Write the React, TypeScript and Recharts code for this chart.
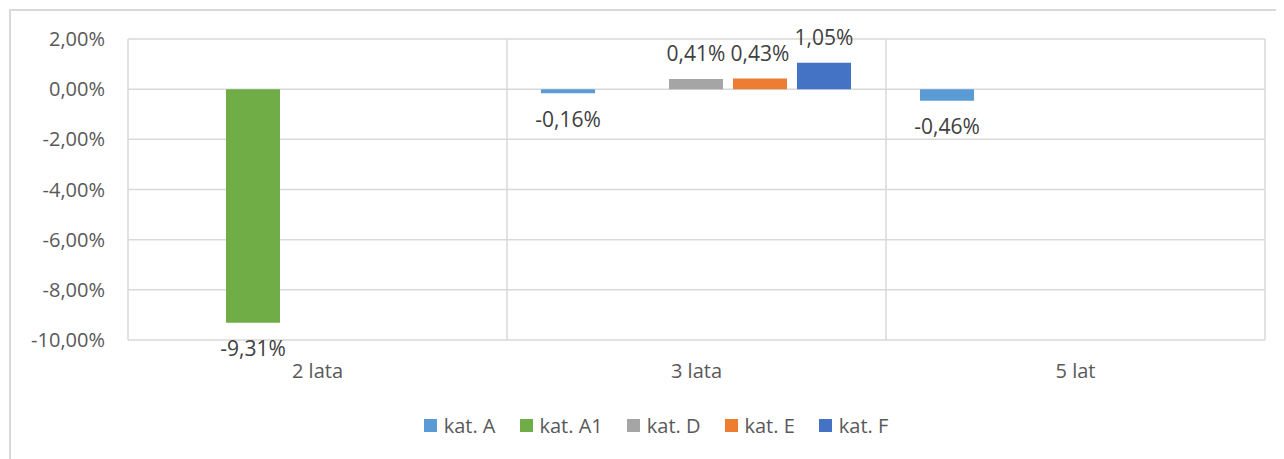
import React from 'react';
import { BarChart, Bar, XAxis, YAxis, CartesianGrid, Legend, LabelList } from 'recharts';

const categories = ['2 lata', '3 lata', '5 lat'];
const katA = [null, -0.16, -0.46];
const katA1 = [-9.31, null, null];
const katD = [null, 0.41, null];
const katE = [null, 0.43, null];
const katF = [null, 1.05, null];
const yTicks = [-10, -8, -6, -4, -2, 0, 2];

const SERIES = [
  { key: 'katA', name: 'kat. A', color: '#5B9BD5' },
  { key: 'katA1', name: 'kat. A1', color: '#70AD47' },
  { key: 'katD', name: 'kat. D', color: '#A5A5A5' },
  { key: 'katE', name: 'kat. E', color: '#ED7D31' },
  { key: 'katF', name: 'kat. F', color: '#4472C4' },
];

const data = categories.map((name, i) => ({
  name,
  katA: katA[i],
  katA1: katA1[i],
  katD: katD[i],
  katE: katE[i],
  katF: katF[i],
}));

const FONT = '"Open Sans", sans-serif';
const pct = (v: number) => v.toFixed(2).replace('.', ',') + '%';

// Excel style "outside end" label
const ValueLabel = (props: any) => {
  const { x, y, width, height, value } = props;
  if (value === null || value === undefined) return null;
  const top = Math.min(y, y + height);
  const bottom = Math.max(y, y + height);
  const cy = value >= 0 ? top - 25 : bottom + 26;
  return (
    <text
      x={x + width / 2}
      y={cy}
      dy="0.36em"
      textAnchor="middle"
      fill="#404040"
      fontSize={21}
      fontFamily={FONT}
    >
      {pct(value)}
    </text>
  );
};

const renderLegend = (props: any) => {
  const { payload } = props;
  return (
    <div style={{ display: 'flex', justifyContent: 'center', alignItems: 'center', height: 28 }}>
      {payload.map((p: any, i: number) => (
        <div key={i} style={{ display: 'flex', alignItems: 'center', marginRight: i < payload.length - 1 ? 24 : 0 }}>
          <span style={{ width: 13, height: 13, background: p.color, display: 'inline-block', marginRight: 7 }} />
          <span style={{ color: '#595959', fontSize: 20, fontFamily: FONT }}>{p.value}</span>
        </div>
      ))}
    </div>
  );
};

export default function App() {
  return (
    <div style={{ position: 'relative', width: 1276, height: 451, fontFamily: FONT }}>
      <div
        style={{
          position: 'absolute',
          left: 1,
          top: 1,
          right: -40,
          bottom: -40,
          borderLeft: '2px solid #d9d9d9',
          borderTop: '2px solid #d9d9d9',
          pointerEvents: 'none',
        }}
      />
      <BarChart
        width={1276}
        height={451}
        data={data}
        margin={{ top: 31, right: 19, bottom: 89, left: 0 }}
        barCategoryGap={34}
        barGap={10}
      >
        <CartesianGrid
          stroke="#d9d9d9"
          strokeWidth={1.5}
          verticalCoordinatesGenerator={({ offset }: any) =>
            categories.map((_, i) => offset.left + (offset.width * i) / categories.length).concat(offset.left + offset.width)
          }
        />
        <XAxis
          dataKey="name"
          axisLine={false}
          tickLine={false}
          tickSize={0}
          tickMargin={24}
          height={30}
          tick={{ fill: '#595959', fontSize: 20, fontFamily: FONT }}
        />
        <YAxis
          domain={[-10, 2]}
          ticks={yTicks}
          width={120}
          axisLine={false}
          tickLine={false}
          tickSize={0}
          tickMargin={23}
          tickFormatter={pct}
          tick={{ fill: '#595959', fontSize: 20, fontFamily: FONT }}
        />
        <Legend
          layout="horizontal"
          verticalAlign="middle"
          content={renderLegend}
          wrapperStyle={{ top: 403, left: 0, width: 1296 }}
        />
        {SERIES.map((s) => (
          <Bar key={s.key} dataKey={s.key} name={s.name} fill={s.color} isAnimationActive={false}>
            <LabelList dataKey={s.key} content={ValueLabel} />
          </Bar>
        ))}
      </BarChart>
    </div>
  );
}
